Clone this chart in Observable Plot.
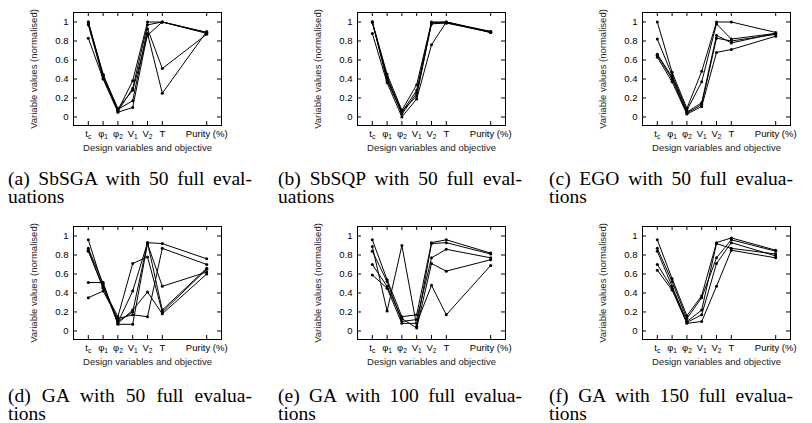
<!DOCTYPE html>
<html><head><meta charset="utf-8">
<script src="https://cdn.jsdelivr.net/npm/d3@7"></script>
<script src="https://cdn.jsdelivr.net/npm/@observablehq/plot@0.6"></script>
<style>
html,body{margin:0;padding:0;background:#fff;}
#root{position:relative;width:812px;height:423px;overflow:hidden;background:#fff;}
.panel{position:absolute;}
.cap{position:absolute;width:244px;font-family:"Liberation Serif","Times New Roman",serif;font-size:19.5px;line-height:18px;color:#000;text-align:justify;hyphens:manual;}
</style></head><body><div id="root"></div>
<script>
// Axis categories (x position of each variable) and tick labels
const varPositions = [1, 2, 3, 4, 5, 6, 9];
const varLabels = ["t_c", "φ_1", "φ_2", "V_1", "V_2", "T", "Purity (%)"];
const yTickValues = [0, 0.2, 0.4, 0.6, 0.8, 1];
const yAxisTitle = "Variable values (normalised)";
const xAxisTitle = "Design variables and objective";

// Each row: t_c, φ1, φ2, V1, V2, T, Purity (normalised)
const sbsga50 = [
  [1.00, 0.45, 0.07, 0.38, 1.00, 1.00, 0.89],
  [0.98, 0.43, 0.06, 0.30, 0.97, 1.00, 0.88],
  [0.97, 0.41, 0.08, 0.17, 0.93, 0.51, 0.87],
  [0.83, 0.40, 0.05, 0.10, 0.88, 0.25, 0.90],
  [1.00, 0.44, 0.09, 0.28, 0.86, 1.00, 0.89]
];
const sbsqp50 = [
  [1.00, 0.45, 0.07, 0.34, 1.00, 1.00, 0.90],
  [1.00, 0.42, 0.05, 0.28, 0.99, 1.00, 0.89],
  [1.00, 0.40, 0.03, 0.25, 0.98, 0.99, 0.89],
  [0.88, 0.36, 0.00, 0.19, 0.76, 1.00, 0.89],
  [1.00, 0.38, 0.06, 0.22, 0.99, 0.99, 0.90]
];
const ego50 = [
  [1.00, 0.47, 0.09, 0.48, 1.00, 1.00, 0.89],
  [0.82, 0.44, 0.07, 0.37, 0.98, 0.82, 0.88],
  [0.66, 0.42, 0.05, 0.15, 0.86, 0.78, 0.88],
  [0.65, 0.40, 0.04, 0.13, 0.83, 0.80, 0.87],
  [0.63, 0.37, 0.03, 0.11, 0.68, 0.71, 0.85]
];
const ga50 = [
  [0.96, 0.47, 0.09, 0.42, 0.93, 0.92, 0.76],
  [0.87, 0.50, 0.07, 0.07, 0.92, 0.47, 0.62],
  [0.85, 0.45, 0.15, 0.71, 0.78, 0.20, 0.65],
  [0.51, 0.51, 0.08, 0.22, 0.41, 0.18, 0.60],
  [0.35, 0.42, 0.13, 0.17, 0.15, 0.87, 0.70],
  [0.84, 0.46, 0.10, 0.20, 0.93, 0.22, 0.66]
];
const ga100 = [
  [0.96, 0.54, 0.15, 0.17, 0.93, 0.96, 0.82],
  [0.89, 0.21, 0.90, 0.05, 0.92, 0.93, 0.81],
  [0.84, 0.52, 0.10, 0.12, 0.77, 0.86, 0.77],
  [0.70, 0.47, 0.13, 0.03, 0.71, 0.63, 0.75],
  [0.59, 0.45, 0.08, 0.08, 0.48, 0.17, 0.69]
];
const ga150 = [
  [0.96, 0.55, 0.16, 0.37, 0.93, 0.98, 0.85],
  [0.87, 0.52, 0.13, 0.35, 0.77, 0.96, 0.84],
  [0.84, 0.47, 0.10, 0.22, 0.92, 0.87, 0.81],
  [0.70, 0.45, 0.09, 0.17, 0.71, 0.93, 0.79],
  [0.64, 0.43, 0.08, 0.10, 0.47, 0.85, 0.77]
];

// Captions: first part, hyphenation break, remainder
const captionLine1 = [
  "(a) SbSGA with 50 full eval-", "(b) SbSQP with 50 full eval-", "(c) EGO with 50 full evalua-",
  "(d) GA with 50 full evalua-", "(e) GA with 100 full evalua-", "(f) GA with 150 full evalua-"
];
const captionLine2 = ["uations", "uations", "tions", "tions", "tions", "tions"];
const panelData = [sbsga50, sbsqp50, ego50, ga50, ga100, ga150];

// layout
const W = 260, H = 160, mL = 73, mT = 12, fW = 148, fH = 113;
const colSvgLeft = [0, 284, 569];
const rowSvgTop = [0, 214];
const capLeft = [8, 278, 549];
const capTop = [170, 387];

function makePanel(rows) {
  const data = [];
  rows.forEach((r, i) => r.forEach((v, j) => data.push({s: i, x: varPositions[j], y: v})));
  const tk = 4;
  const svg = Plot.plot({
    width: W, height: H,
    marginLeft: mL, marginTop: mT, marginRight: W - mL - fW, marginBottom: H - mT - fH,
    style: {fontFamily: "'Liberation Sans', Arial, Helvetica, sans-serif", fontSize: "9.5px", background: "transparent", color: "#000"},
    x: {domain: [0, 10]},
    y: {domain: [-0.09, 1.1]},
    marks: [
      Plot.axisX({ticks: varPositions, tickFormat: d => varLabels[varPositions.indexOf(d)], tickSize: 0, tickPadding: 5, label: null}),
      Plot.axisY({ticks: yTickValues, tickFormat: d => String(d), tickSize: 0, tickPadding: 5, label: null}),
      Plot.tickX(varPositions, {x: d => d, insetTop: fH - tk, stroke: "#000"}),
      Plot.tickX(varPositions, {x: d => d, insetBottom: fH - tk, stroke: "#000"}),
      Plot.tickY(yTickValues, {y: d => d, insetRight: fW - tk, stroke: "#000"}),
      Plot.tickY(yTickValues, {y: d => d, insetLeft: fW - tk, stroke: "#000"}),
      Plot.line(data, {x: "x", y: "y", z: "s", stroke: "#000", strokeWidth: 1}),
      Plot.dot(data, {x: "x", y: "y", r: 1.5, fill: "#000", stroke: null}),
      Plot.frame({stroke: "#000", strokeWidth: 1}),
      Plot.text([xAxisTitle], {frameAnchor: "bottom", dy: 25, text: d => d, fill: "#222"}),
      Plot.text([yAxisTitle], {frameAnchor: "left", dx: -40, rotate: -90, textAnchor: "middle", text: d => d, fill: "#222"})
    ]
  });
  // subscripts on x tick labels
  svg.querySelectorAll('g[aria-label="x-axis tick label"] text').forEach(t => {
    const s = t.textContent;
    const k = s.indexOf("_");
    if (k > 0) {
      t.textContent = "";
      const a = document.createElementNS("http://www.w3.org/2000/svg", "tspan");
      a.textContent = s.slice(0, k);
      const b = document.createElementNS("http://www.w3.org/2000/svg", "tspan");
      b.textContent = s.slice(k + 1);
      b.setAttribute("font-size", "70%");
      b.setAttribute("dy", "0.25em");
      t.appendChild(a); t.appendChild(b);
    }
  });
  return svg;
}

const root = document.getElementById("root");
panelData.forEach((rows, i) => {
  const col = i % 3, row = Math.floor(i / 3);
  const svg = makePanel(rows);
  svg.classList.add("panel");
  svg.style.left = colSvgLeft[col] + "px";
  svg.style.top = rowSvgTop[row] + "px";
  root.appendChild(svg);
  const c = document.createElement("div");
  c.className = "cap";
  c.textContent = captionLine1[i].slice(0, -1) + "\u00AD" + captionLine2[i];
  c.style.left = capLeft[col] + "px";
  c.style.top = capTop[row] + "px";
  root.appendChild(c);
});
</script>
</body></html>
